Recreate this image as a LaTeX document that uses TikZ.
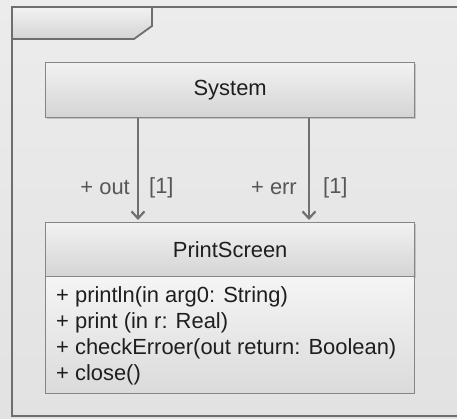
\documentclass[tikz,border=0pt]{standalone}
\usepackage{fontspec}
\setmainfont{Liberation Sans}
\usetikzlibrary{arrows.meta,shadows}
\definecolor{bgtop}{HTML}{ECECEC}
\definecolor{bgbot}{HTML}{E2E2E2}
\definecolor{boxtop}{HTML}{F2F2F2}
\definecolor{boxbot}{HTML}{D4D4D4}
\definecolor{edge}{HTML}{858585}
\definecolor{frame}{HTML}{6E6E6E}
\definecolor{txt}{HTML}{1E1E1E}
\definecolor{arrowc}{HTML}{707070}
\tikzset{
  umlbox/.style={draw=edge, line width=1.3bp, top color=boxtop, bottom color=boxbot,
    drop shadow={shadow xshift=1.5bp, shadow yshift=-1.5bp, opacity=0.35}},
  opsbox/.style={draw=edge, line width=1.3bp, top color=white!92!gray, bottom color=boxbot!85!white},
  title/.style={font=\fontsize{22}{26}\selectfont, text=txt},
  lbl/.style={font=\fontsize{22}{26}\selectfont, text=txt!75!white, inner sep=0pt},
  op/.style={font=\fontsize{22}{26}\selectfont, text=txt, anchor=west, inner sep=0pt},
  assoc/.style={draw=arrowc, line width=2.4bp, -{Straight Barb[length=7bp,width=13bp,line width=2.2bp]}}
}
\begin{document}
\begin{tikzpicture}[x=1bp,y=-1bp]
\useasboundingbox (0,0) rectangle (457,418);
% background frame
\fill[top color=bgtop, bottom color=bgbot] (0,0) rectangle (457,418);
\shade[top color=boxtop, bottom color=boxbot, draw=frame, line width=1.8bp]
  (12,7) -- (152,7) -- (152,26) -- (134,39) -- (12,39) -- cycle;
\draw[frame, line width=1.8bp] (458,7) -- (12,7) -- (12,416) -- (458,416);
% System
\node[umlbox, minimum width=369bp, minimum height=55bp, inner sep=0pt, anchor=north west] (sys) at (45,62) {};
\node[title] (systxt) at (sys.center) {System};
% PrintScreen
\node[umlbox, minimum width=369bp, minimum height=54bp, inner sep=0pt, anchor=north west] (ps) at (45,222) {};
\node[title] (pstxt) at (ps.center) {PrintScreen};
\node[opsbox, minimum width=369bp, minimum height=117bp, inner sep=0pt, anchor=north west] (ops) at (45,276) {};
\node[op] (o1) at (56,297) {+ println(in arg0: String)};
\node[op] (o2) at (56,323) {+ print (in r: Real)};
\node[op] (o3) at (56,349) {+ checkErroer(out return: Boolean)};
\node[op] (o4) at (56,375) {+ close()};
% associations
\coordinate (a1s) at (138,118);
\coordinate (a1e) at (138,220);
\coordinate (a2s) at (309,118);
\coordinate (a2e) at (309,220);
\draw[assoc] (a1s) -- (a1e);
\draw[assoc] (a2s) -- (a2e);
\node[lbl, anchor=east] (l1) at (130,188) {+ out};
\node[lbl, anchor=west] (m1) at (149,188) {[1]};
\node[lbl, anchor=east] (l2) at (297,188) {+ err};
\node[lbl, anchor=west] (m2) at (323,188) {[1]};
\end{tikzpicture}
\end{document}
